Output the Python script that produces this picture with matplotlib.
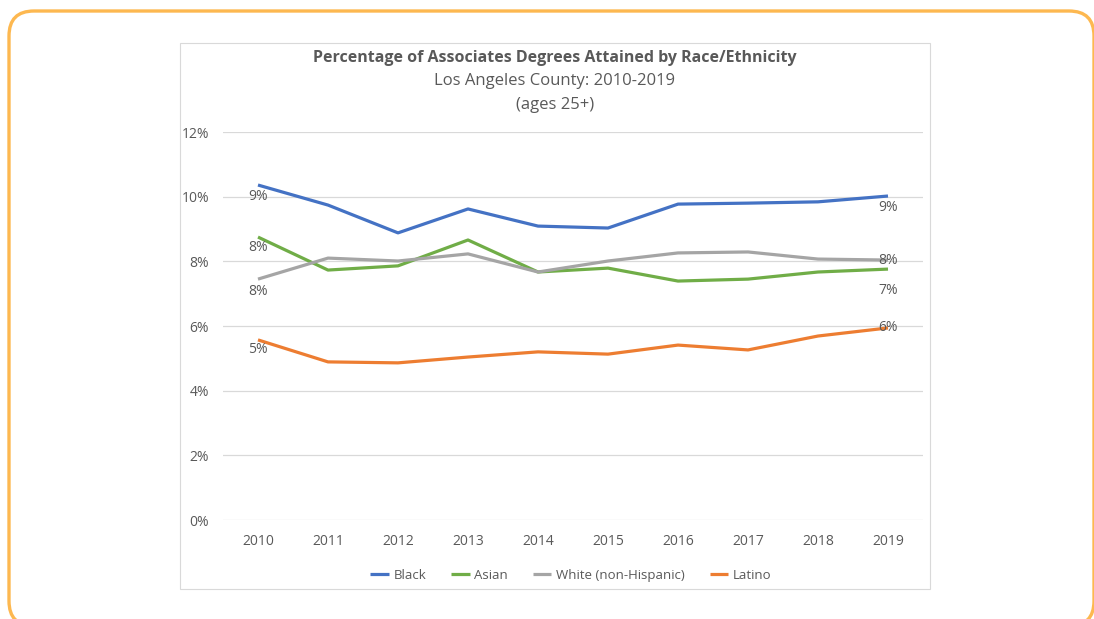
import matplotlib
matplotlib.use('Agg')
import matplotlib.pyplot as plt
from matplotlib.patches import FancyBboxPatch, Rectangle
from matplotlib.ticker import FuncFormatter

plt.rcParams['font.family'] = ['Open Sans', 'DejaVu Sans']

years = [2010, 2011, 2012, 2013, 2014, 2015, 2016, 2017, 2018, 2019]
black = [10.36, 9.74, 8.88, 9.62, 9.09, 9.03, 9.77, 9.80, 9.84, 10.02]
asian = [8.75, 7.73, 7.86, 8.66, 7.67, 7.79, 7.39, 7.45, 7.67, 7.76]
white = [7.45, 8.10, 8.01, 8.23, 7.67, 8.01, 8.26, 8.29, 8.07, 8.04]
latino = [5.57, 4.89, 4.86, 5.04, 5.20, 5.13, 5.41, 5.26, 5.69, 5.94]

# end-point labels as printed on the chart: (first, last)
end_labels = {
    'Black': ('9%', '9%'),
    'Asian': ('8%', '7%'),
    'White (non-Hispanic)': ('8%', '8%'),
    'Latino': ('5%', '6%'),
}
# label offsets in percentage points (first, last)
label_offsets = {
    'Black': (-0.34, -0.37),
    'Asian': (-0.31, -0.65),
    'White (non-Hispanic)': (-0.37, 0.0),
    'Latino': (-0.31, 0.0),
}

series = [
    ('Black', black, '#4472C4'),
    ('Asian', asian, '#70AD47'),
    ('White (non-Hispanic)', white, '#A5A5A5'),
    ('Latino', latino, '#ED7D31'),
]

W, H = 1094, 619
fig = plt.figure(figsize=(W / 100, H / 100), dpi=100)
fig.patch.set_facecolor('white')

# background layer in pixel coords (y measured from top)
bg = fig.add_axes([0, 0, 1, 1])
bg.set_xlim(0, W)
bg.set_ylim(0, H)
bg.axis('off')
bg.add_patch(FancyBboxPatch((9, H - 626), 1085, 615, boxstyle='round,pad=0,rounding_size=25',
                            fc='none', ec='#FDB850', lw=2.4, clip_on=False))
bg.add_patch(Rectangle((180, H - 589), 750, 546, fc='white', ec='#D9D9D9', lw=0.8))

tg = '#595959'
bg.text(555, H - 58, 'Percentage of Associates Degrees Attained by Race/Ethnicity',
        ha='center', va='center', fontsize=11.5, fontweight='bold', color=tg)
bg.text(555, H - 81, 'Los Angeles County: 2010-2019', ha='center', va='center',
        fontsize=12, color=tg)
bg.text(555, H - 105, '(ages 25+)', ha='center', va='center', fontsize=12, color=tg)

ax = fig.add_axes([223 / W, 1 - 520 / H, 700 / W, (520 - 132) / H])
ax.set_xlim(2009.5, 2019.5)
ax.set_ylim(0, 12)
ax.set_facecolor('none')
for s in ax.spines.values():
    s.set_visible(False)
ax.set_yticks([0, 2, 4, 6, 8, 10, 12])
ax.yaxis.set_major_formatter(FuncFormatter(lambda v, p: f'{int(v)}%'))
ax.set_xticks(years)
ax.grid(axis='y', color='#D9D9D9', lw=0.9)
ax.set_axisbelow(True)
ax.tick_params(length=0, labelsize=10, colors=tg)
ax.tick_params(axis='y', pad=10)
ax.tick_params(axis='x', pad=10)

for name, vals, col in series:
    ax.plot(years, vals, color=col, lw=2.3, label=name, solid_capstyle='butt')
    o1, o2 = label_offsets[name]
    l1, l2 = end_labels[name]
    ax.text(years[0], vals[0] + o1, l1, ha='center', va='center', fontsize=10, color=tg)
    ax.text(years[-1], vals[-1] + o2, l2, ha='center', va='center', fontsize=10, color=tg)

leg = ax.legend(loc='center', bbox_to_anchor=(0.497, -0.142), ncol=4, frameon=False,
                fontsize=9.5, handlelength=1.4, handletextpad=0.35, columnspacing=1.9)
for t in leg.get_texts():
    t.set_color(tg)

fig.savefig('out.png', dpi=100)
